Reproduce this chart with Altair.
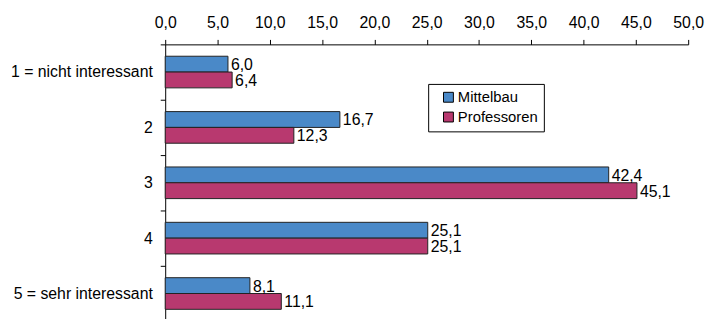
import altair as alt
import pandas as pd

categories = ["1 = nicht interessant", "2", "3", "4", "5 = sehr interessant"]
series = ["Mittelbau", "Professoren"]
mittelbau = [6.0, 16.7, 42.4, 25.1, 8.1]
professoren = [6.4, 12.3, 45.1, 25.1, 11.1]
x_ticks = [0, 5, 10, 15, 20, 25, 30, 35, 40, 45, 50]
colors = ["#4a89c8", "#b8396f"]

rows = []
for c, m, p in zip(categories, mittelbau, professoren):
    rows.append({"cat": c, "series": series[0], "value": m})
    rows.append({"cat": c, "series": series[1], "value": p})
df = pd.DataFrame(rows)
df["label"] = df["value"].map(lambda v: f"{v:.1f}".replace(".", ","))

FONT = "Liberation Sans"

y_enc = alt.Y("cat:N", sort=categories, title=None,
              scale=alt.Scale(paddingInner=0, paddingOuter=0, range=[0, 280]),
              axis=alt.Axis(tickBand="extent", tickSize=5, labelPadding=8,
                            labelFontSize=16, labelFont=FONT, labelColor="black",
                            domainColor="black", tickColor="black", labelLimit=300))
yoff = alt.YOffset("series:N", sort=series,
                   scale=alt.Scale(paddingInner=0, paddingOuter=0.75))
x_enc = alt.X("value:Q", title=None,
              scale=alt.Scale(domain=[0, 50], nice=False),
              axis=alt.Axis(orient="top", values=x_ticks, grid=False, tickSize=5,
                            labelPadding=9, labelFontSize=16, labelFont=FONT,
                            labelFlush=False, labelOverlap=False,
                            labelColor="black", domainColor="black", tickColor="black",
                            labelExpr="replace(format(datum.value, '.1f'), '.', ',')"))

bars = alt.Chart(df).mark_bar(stroke="#222222", strokeWidth=1).encode(
    x=x_enc, y=y_enc, yOffset=yoff,
    color=alt.Color("series:N", sort=series,
                    scale=alt.Scale(domain=series, range=colors),
                    legend=alt.Legend(title=None, orient="none", legendX=266, legendY=40,
                                      strokeColor="black", padding=6, fillColor="white",
                                      symbolType="square", symbolSize=100,
                                      symbolStrokeColor="black", symbolStrokeWidth=1,
                                      symbolOpacity=1, symbolOffset=7,
                                      labelFontSize=15, labelFont=FONT, labelColor="black",
                                      rowPadding=4, labelOffset=2, cornerRadius=0)),
)

labels = alt.Chart(df).mark_text(align="left", baseline="middle", dx=3, dy=1,
                                 fontSize=16, font=FONT, color="black").encode(
    x="value:Q", y=alt.Y("cat:N", sort=categories), yOffset=yoff, text="label:N")

chart = (bars + labels).properties(
    width=529, height=276,
    autosize=alt.AutoSizeParams(type="none"),
    padding={"left": 159, "top": 35, "right": 17, "bottom": 0},
).configure_view(stroke=None)

chart.save("out.html", embed_options={"renderer": "svg", "actions": False})
